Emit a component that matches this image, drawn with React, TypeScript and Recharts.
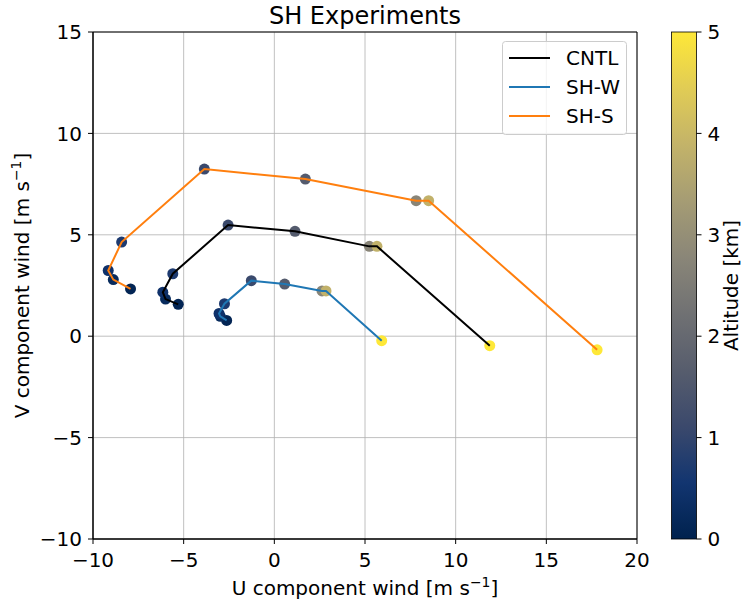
import {
  CartesianGrid,
  Cell,
  ComposedChart,
  Label,
  Legend,
  ReferenceArea,
  Scatter,
  XAxis,
  YAxis,
} from 'recharts';

// altitude (km) of each sounding level, shared by all three runs
const altitude = [0.1, 0.25, 0.45, 0.7, 1.1, 1.6, 2.75, 3.85, 5.0];

const cntlU = [-5.3, -6.0, -6.15, -5.6, -2.55, 1.14, 5.24, 5.66, 11.88];
const cntlV = [1.57, 1.83, 2.17, 3.08, 5.48, 5.17, 4.43, 4.43, -0.47];

const shwU = [-2.63, -2.98, -3.05, -2.75, -1.27, 0.57, 2.63, 2.85, 5.92];
const shwV = [0.78, 0.98, 1.12, 1.6, 2.74, 2.57, 2.23, 2.23, -0.22];

const shsU = [-7.93, -8.88, -9.16, -8.42, -3.86, 1.71, 7.82, 8.51, 17.8];
const shsV = [2.33, 2.79, 3.24, 4.64, 8.24, 7.75, 6.68, 6.68, -0.67];

const xTicks = [-10, -5, 0, 5, 10, 15, 20];
const yTicks = [-10, -5, 0, 5, 10, 15];
const cbarTicks = [0, 1, 2, 3, 4, 5];
const altMax = 5;

const series = [
  { name: 'CNTL', color: '#000000', u: cntlU, v: cntlV },
  { name: 'SH-W', color: '#1f77b4', u: shwU, v: shwV },
  { name: 'SH-S', color: '#ff7f0e', u: shsU, v: shsV },
];

// cividis, 10 evenly spaced samples
const cividis = [
  '#00224e', '#123570', '#3b496c', '#575d6d', '#707173',
  '#8a8678', '#a59c74', '#c3b369', '#e1cc55', '#fee838',
];

const hexToRgb = (h: string) => [1, 3, 5].map((i) => parseInt(h.slice(i, i + 2), 16));

const cividisColor = (t: number) => {
  const c = Math.max(0, Math.min(1, t)) * (cividis.length - 1);
  const i = Math.min(Math.floor(c), cividis.length - 2);
  const f = c - i;
  const a = hexToRgb(cividis[i]);
  const b = hexToRgb(cividis[i + 1]);
  const rgb = a.map((x, k) => Math.round(x + (b[k] - x) * f));
  return `rgb(${rgb.join(',')})`;
};

const fmt = (v: number) => (v < 0 ? `\u2212${Math.abs(v)}` : `${v}`);

const W = 743;
const H = 602;
const plot = { left: 93, right: 637, top: 32, bottom: 539 };
const cbar = { left: 671.5, width: 25 };
const font = 20;

const LegendBox = () => (
  <svg width={126} height={95} style={{ display: 'block' }}>
    <rect x={0.5} y={0.5} width={124} height={93} rx={3} fill="#fff" fillOpacity={0.8} stroke="#cccccc" />
    {series.map((s, i) => (
      <g key={s.name}>
        <line x1={7} x2={48} y1={17 + i * 29} y2={17 + i * 29} stroke={s.color} strokeWidth={2} />
        <text x={64} y={17 + i * 29} dy="0.36em" fontSize={font} fill="#000">
          {s.name}
        </text>
      </g>
    ))}
  </svg>
);

const Dot = (props: any) => <circle cx={props.cx} cy={props.cy} r={5.5} fill={props.fill} />;

const unitLabel = (prefix: string) => (
  <>
    {prefix} [m s
    <tspan dy={-8} fontSize={14}>{'\u22121'}</tspan>
    <tspan dy={8}>]</tspan>
  </>
);

export default function App() {
  const rows = series.map((s) =>
    s.u.map((u, i) => ({ u, v: s.v[i], alt: altitude[i] })),
  );
  const cbarY = (a: number) => plot.bottom - (a / altMax) * (plot.bottom - plot.top);
  const midY = (plot.top + plot.bottom) / 2;

  return (
    <div
      style={{
        position: 'absolute',
        left: 0,
        top: 0,
        width: W,
        height: H,
        background: '#fff',
        fontFamily: '"DejaVu Sans", sans-serif',
      }}
    >
      <ComposedChart
        width={W}
        height={H}
        margin={{ top: plot.top, right: W - plot.right, bottom: H - plot.bottom - 50, left: plot.left - 60 }}
      >
        <CartesianGrid stroke="#b0b0b0" strokeWidth={0.8} />
        <XAxis
          type="number"
          dataKey="u"
          domain={[-10, 20]}
          ticks={xTicks}
          allowDataOverflow
          height={50}
          tickFormatter={fmt}
          tick={{ fontSize: font, fill: '#000' }}
          tickSize={5}
          tickMargin={9}
          stroke="#000"
        >
          <Label
            content={({ viewBox }: any) => (
              <text x={viewBox.x + viewBox.width / 2} y={595} textAnchor="middle" fontSize={font} fill="#000">
                {unitLabel('U component wind')}
              </text>
            )}
          />
        </XAxis>
        <YAxis
          type="number"
          dataKey="v"
          domain={[-10, 15]}
          ticks={yTicks}
          allowDataOverflow
          width={60}
          tickFormatter={fmt}
          tick={{ fontSize: font, fill: '#000' }}
          tickSize={5}
          tickMargin={6}
          stroke="#000"
        >
          <Label
            content={({ viewBox }: any) => {
              const cy = viewBox.y + viewBox.height / 2;
              return (
                <text x={29} y={cy} textAnchor="middle" fontSize={font} fill="#000" transform={`rotate(-90, 29, ${cy})`}>
                  {unitLabel('V component wind')}
                </text>
              );
            }}
          />
        </YAxis>
        <ReferenceArea x1={-10} x2={20} y1={-10} y2={15} fill="none" stroke="#000" strokeWidth={1} ifOverflow="visible" />
        {series.map((s, k) => (
          <Scatter key={`pts-${s.name}`} data={rows[k]} isAnimationActive={false} shape={Dot} legendType="none">
            {rows[k].map((r, i) => (
              <Cell key={i} fill={cividisColor(r.alt / altMax)} />
            ))}
          </Scatter>
        ))}
        {series.map((s, k) => (
          <Scatter
            key={`line-${s.name}`}
            name={s.name}
            data={rows[k]}
            isAnimationActive={false}
            line={{ stroke: s.color, strokeWidth: 2 }}
            lineType="joint"
            stroke={s.color}
            fill="none"
            shape={() => <g />}
          />
        ))}
        <Legend
          layout="vertical"
          align="center"
          verticalAlign="middle"
          content={() => <LegendBox />}
          wrapperStyle={{ position: 'absolute', left: 502, top: 41, width: 126, height: 95 }}
        />
      </ComposedChart>
      <svg width={W} height={H} style={{ position: 'absolute', left: 0, top: 0, pointerEvents: 'none' }}>
        <defs>
          <linearGradient id="cividis-bar" x1="0" x2="0" y1="1" y2="0">
            {cividis.map((c, i) => (
              <stop key={c} offset={`${(i / (cividis.length - 1)) * 100}%`} stopColor={c} />
            ))}
          </linearGradient>
        </defs>
        <text x={(plot.left + plot.right) / 2} y={24} textAnchor="middle" fontSize={24} fill="#000">
          SH Experiments
        </text>
        <rect
          x={cbar.left}
          y={plot.top}
          width={cbar.width}
          height={plot.bottom - plot.top}
          fill="url(#cividis-bar)"
          stroke="#000"
          strokeWidth={0.8}
        />
        {cbarTicks.map((t) => (
          <g key={t}>
            <line x1={cbar.left + cbar.width} x2={cbar.left + cbar.width + 5} y1={cbarY(t)} y2={cbarY(t)} stroke="#000" />
            <text x={cbar.left + cbar.width + 11} y={cbarY(t)} dy="0.355em" fontSize={font} fill="#000">
              {t}
            </text>
          </g>
        ))}
        <text
          x={738}
          y={midY}
          textAnchor="middle"
          fontSize={font}
          fill="#000"
          transform={`rotate(-90, 738, ${midY})`}
        >
          Altitude [km]
        </text>
      </svg>
    </div>
  );
}
